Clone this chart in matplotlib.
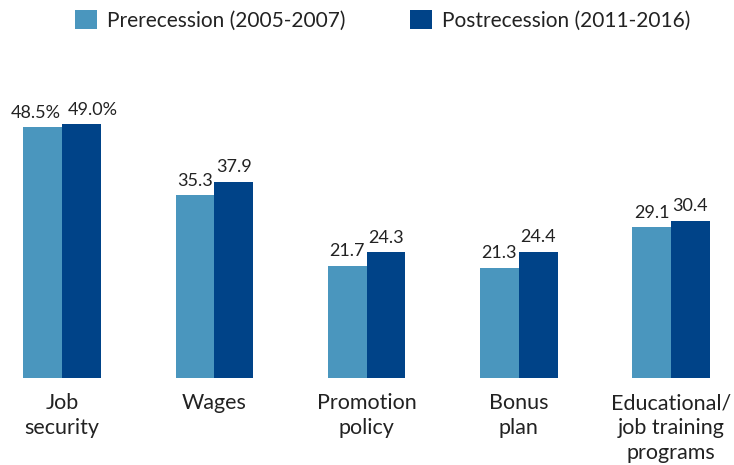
import matplotlib.pyplot as plt
import numpy as np

plt.rcParams['font.family'] = ['Lato', 'DejaVu Sans']

categories = ["Job\nsecurity", "Wages", "Promotion\npolicy", "Bonus\nplan",
              "Educational/\njob training\nprograms"]
pre = [48.5, 35.3, 21.7, 21.3, 29.1]
post = [49.0, 37.9, 24.3, 24.4, 30.4]
pre_labels = ["48.5%", "35.3", "21.7", "21.3", "29.1"]
post_labels = ["49.0%", "37.9", "24.3", "24.4", "30.4"]

light = "#4a96be"
dark = "#004388"
txt = "#222222"

fig = plt.figure(figsize=(7.34, 4.65), dpi=100)
ax = fig.add_axes([0, 87 / 465, 1, 378 / 465])

x = np.arange(len(categories))
w = 0.255
b1 = ax.bar(x - w / 2, pre, w, color=light, label="Prerecession (2005-2007)")
b2 = ax.bar(x + w / 2, post, w, color=dark, label="Postrecession (2011-2016)")

# nudge the wide percent labels of the first pair apart so they don't collide
nudge_pre = [-5, 0, 0, 0, 0]
nudge_post = [8, 0, 0, 0, 0]
for bars, labs, nudge in ((b1, pre_labels, nudge_pre), (b2, post_labels, nudge_post)):
    for bar, lab, dx in zip(bars, labs, nudge):
        ax.annotate(lab, (bar.get_x() + bar.get_width() / 2, bar.get_height()),
                    xytext=(dx, 4.5), textcoords="offset points",
                    ha="center", va="bottom", fontsize=13, color=txt)

ax.set_xlim(-0.408, 4.414)
ax.set_ylim(0, 378 / 5.18)
ax.set_xticks(x)
ax.set_xticklabels(categories, fontsize=15.5, color=txt, linespacing=1.3)
ax.tick_params(axis="x", length=0, pad=11)
ax.set_yticks([])
for s in ax.spines.values():
    s.set_visible(False)

fig.legend(loc="upper left", bbox_to_anchor=(75 / 734, 1 - 10 / 465), ncol=2,
           frameon=False, fontsize=15, handlelength=1.05, handleheight=1.05,
           handletextpad=0.48, columnspacing=3.1, borderpad=0, borderaxespad=0,
           labelcolor=txt)

fig.savefig("out.png", dpi=100)
